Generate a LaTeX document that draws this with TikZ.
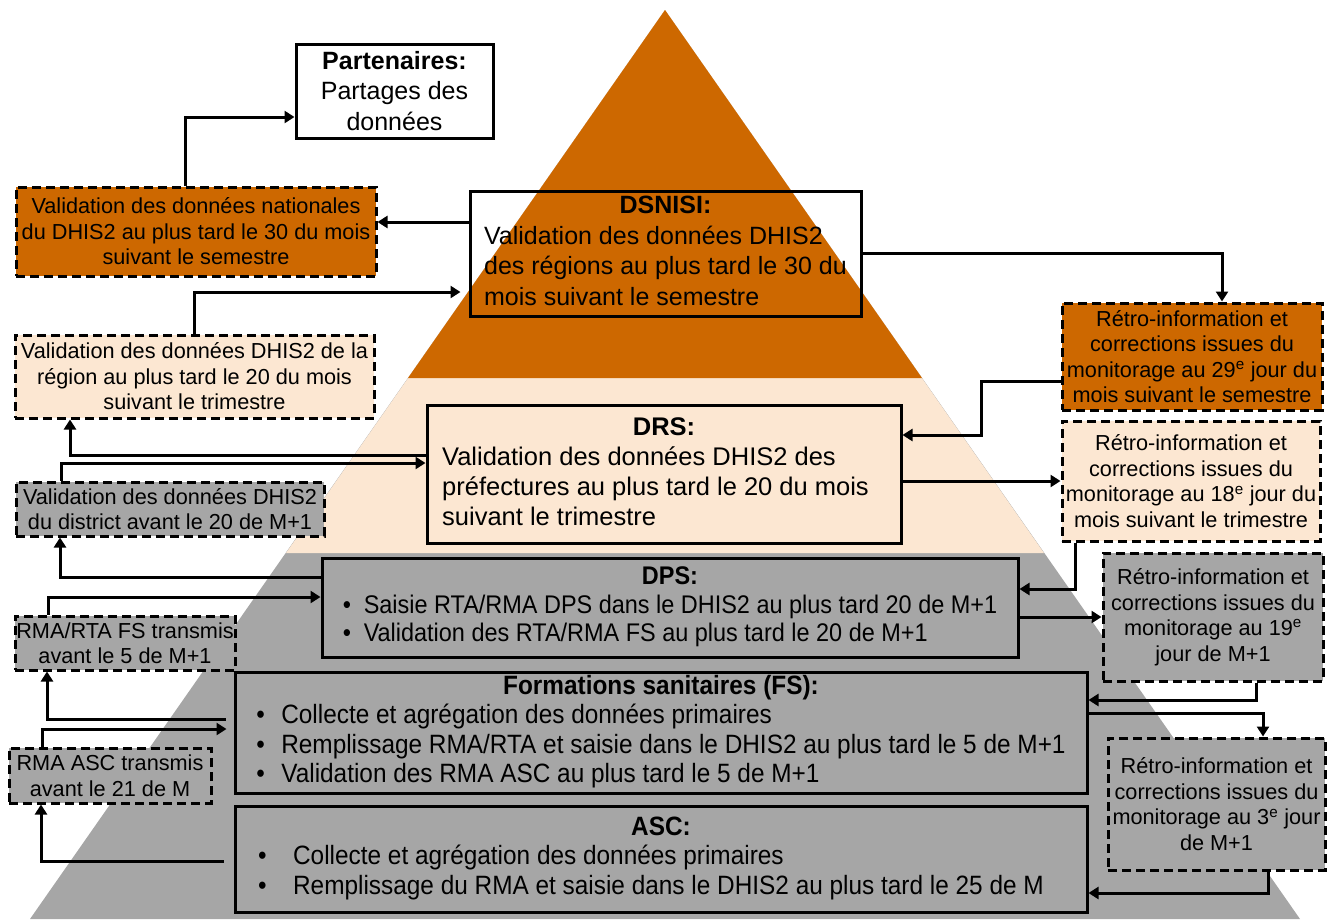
\documentclass[tikz,border=0pt]{standalone}
\usepackage{fontspec}
\setmainfont{Liberation Sans}
\newfontfamily\narrowsans[FakeStretch=0.92]{Liberation Sans}
\usepackage{tikz}
\usetikzlibrary{arrows.meta}
\usepackage{xcolor}
\definecolor{pyrorange}{RGB}{205,104,0}
\definecolor{pyrpeach}{RGB}{252,231,210}
\definecolor{pyrgray}{RGB}{166,166,166}

\begin{document}
\begin{tikzpicture}[x=1pt,y=-1pt,
	box/.style={draw,line width=3pt,inner sep=0pt},
	sidebox/.style={box,dash pattern=on 9pt off 5pt,align=center,font=\fontsize{21.7}{25.5}\selectfont},
	bigfont/.style={font=\fontsize{25}{30.5}\selectfont},
	link/.style={line width=3pt,-{Triangle[length=10pt,width=12pt]}}]
		\useasboundingbox (0,0) rectangle (1330,919);
		% pyramide
		\fill[pyrgray] (665,10) -- (30,919) -- (1300,919) -- cycle;
		\fill[pyrpeach] (665,10) -- (286,553) -- (1044,553) -- cycle;
		\fill[pyrorange] (665,10) -- (408,378) -- (922,378) -- cycle;
		% niveaux
		\node[box,bigfont,align=center,fill=white,minimum width=197pt,minimum height=94pt] (part) at (394.5,91) {\textbf{Partenaires:}\\Partages des\\données};
		\node[box,bigfont,minimum width=391pt,minimum height=125pt] (dsnisi) at (665.5,253.5)
		{\begin{tabular}{@{}l@{}}\multicolumn{1}{@{}c@{}}{\textbf{DSNISI:}}\\Validation des données DHIS2\\des régions au plus tard le 30 du\\mois suivant le semestre\end{tabular}};
		\node[box,font=\fontsize{25.5}{30}\selectfont,minimum width=474pt,minimum height=138pt] (drs) at (664,474)
		{\begin{tabular}{@{}l@{\hspace{17pt}}}\multicolumn{1}{@{\hspace{8.5pt}}c@{\hspace{8.5pt}}}{\textbf{DRS:}}\\Validation des données DHIS2 des\\préfectures au plus tard le 20 du mois\\suivant le trimestre\end{tabular}};
		\node[box,font=\narrowsans\fontsize{25.5}{28.5}\selectfont,minimum width=696pt,minimum height=99pt] (dps) at (670,607.5)
		{\begin{tabular}{@{}l@{}}\multicolumn{1}{@{}c@{}}{\textbf{DPS:}}\\\makebox[21pt][l]{\textbullet}Saisie RTA/RMA DPS dans le DHIS2 au plus tard 20 de M+1\\\makebox[21pt][l]{\textbullet}Validation des RTA/RMA FS au plus tard le 20 de M+1\end{tabular}};
		\node[box,font=\narrowsans\fontsize{26.5}{29.5}\selectfont,minimum width=852pt,minimum height=121pt] (fs) at (661,732.5)
		{\begin{tabular}{@{}l@{}}\multicolumn{1}{@{}c@{}}{\textbf{Formations sanitaires (FS):}}\\\makebox[25pt][l]{\textbullet}Collecte et agrégation des données primaires\\\makebox[25pt][l]{\textbullet}Remplissage RMA/RTA et saisie dans le DHIS2 au plus tard le 5 de M+1\\\makebox[25pt][l]{\textbullet}Validation des RMA ASC au plus tard le 5 de M+1\end{tabular}};
		\node[box,font=\narrowsans\fontsize{26.5}{29.5}\selectfont,minimum width=852pt,minimum height=106pt] (asc) at (661,859)
		{\begin{tabular}{@{}l@{\hspace{20pt}}}\multicolumn{1}{@{\hspace{10pt}}c@{\hspace{10pt}}}{\textbf{ASC:}}\\\makebox[35pt][l]{\textbullet}Collecte et agrégation des données primaires\\\makebox[35pt][l]{\textbullet}Remplissage du RMA et saisie dans le DHIS2 au plus tard le 25 de M\end{tabular}};
		% validations
		\node[sidebox,fill=pyrorange,minimum width=360pt,minimum height=89pt] (natl) at (196,231.5) {Validation des données nationales\\du DHIS2 au plus tard le 30 du mois\\suivant le semestre};
		\node[sidebox,fill=pyrpeach,minimum width=359pt,minimum height=83pt] (reg) at (194.5,376.5) {Validation des données DHIS2 de la\\région au plus tard le 20 du mois\\suivant le trimestre};
		\node[sidebox,fill=pyrgray,minimum width=308pt,minimum height=54pt] (dist) at (170,509) {Validation des données DHIS2\\du district avant le 20 de M+1};
		\node[sidebox,fill=pyrgray,minimum width=220pt,minimum height=54pt] (rtafs) at (125,643) {RMA/RTA FS transmis\\avant le 5 de M+1};
		\node[sidebox,fill=pyrgray,minimum width=202pt,minimum height=55pt] (rmaasc) at (110,775.5) {RMA ASC transmis\\avant le 21 de M};
		% retro-information
		\node[sidebox,fill=pyrorange,minimum width=260pt,minimum height=107pt] (r29) at (1192,356.5) {Rétro-information et\\corrections issues du\\monitorage au 29\textsuperscript{e} jour du\\mois suivant le semestre};
		\node[sidebox,fill=pyrpeach,minimum width=258pt,minimum height=120pt] (r18) at (1191,481) {Rétro-information et\\corrections issues du\\monitorage au 18\textsuperscript{e} jour du\\mois suivant le trimestre};
		\node[sidebox,fill=pyrgray,minimum width=220pt,minimum height=128pt] (r19) at (1213,617) {Rétro-information et\\corrections issues du\\monitorage au 19\textsuperscript{e}\\jour de M+1};
		\node[sidebox,fill=pyrgray,minimum width=217pt,minimum height=132pt] (r3) at (1216.5,804) {Rétro-information et\\corrections issues du\\monitorage au 3\textsuperscript{e} jour\\de M+1};
		% fleches
		\draw[link] ([xshift=-11pt]natl.north) |- ([yshift=-26pt]part.west);
		\draw[link] ([yshift=31.5pt]dsnisi.west) -- ([yshift=31.5pt]dsnisi.west -| natl.east);
		\draw[link] (reg.north) |- ([xshift=-8pt,yshift=-38.5pt]dsnisi.west);
		\draw[link] (dsnisi.east) -| ([xshift=30pt]r29.north);
		\draw[link] ([yshift=-24.5pt]r29.west) -- ++(-79,0) |- ([yshift=39pt]drs.east);
		\draw[link] (drs.east |- r18.west) -- (r18.west);
		\draw[link] ([yshift=19pt]drs.west) -| ([xshift=-124.5pt]reg.south);
		\draw[link] ([xshift=-109pt]dist.north) |- ([yshift=11pt]drs.west);
		\draw[link] ([yshift=30.5pt]dps.west) -| ([xshift=-110pt]dist.south);
		\draw[link] ([xshift=-77pt]rtafs.north) |- ([yshift=10.5pt]dps.west);
		\draw[link] ([xshift=-116pt]r18.south) |- ([yshift=18.5pt]dps.east);
		\draw[link] (dps.east |- r19.west) -- (r19.west);
		\draw[link] ([xshift=43pt]r19.south) |- ([yshift=32.5pt]fs.east);
		\draw[link] ([yshift=19.5pt]fs.east) -| ([xshift=46.5pt]r3.north);
		\draw[link] ([xshift=51.5pt]r3.south) |- ([yshift=-34pt]asc.east);
		\draw[link] ([xshift=-8pt,yshift=13.5pt]fs.west) -| ([xshift=-78pt]rtafs.south);
		\draw[link] ([xshift=-68pt]rmaasc.north) |- ([xshift=-7pt,yshift=3.5pt]fs.west);
		\draw[link] ([xshift=-10pt,yshift=-2pt]asc.west) -| ([xshift=-69pt]rmaasc.south);
\end{tikzpicture}
\end{document}
